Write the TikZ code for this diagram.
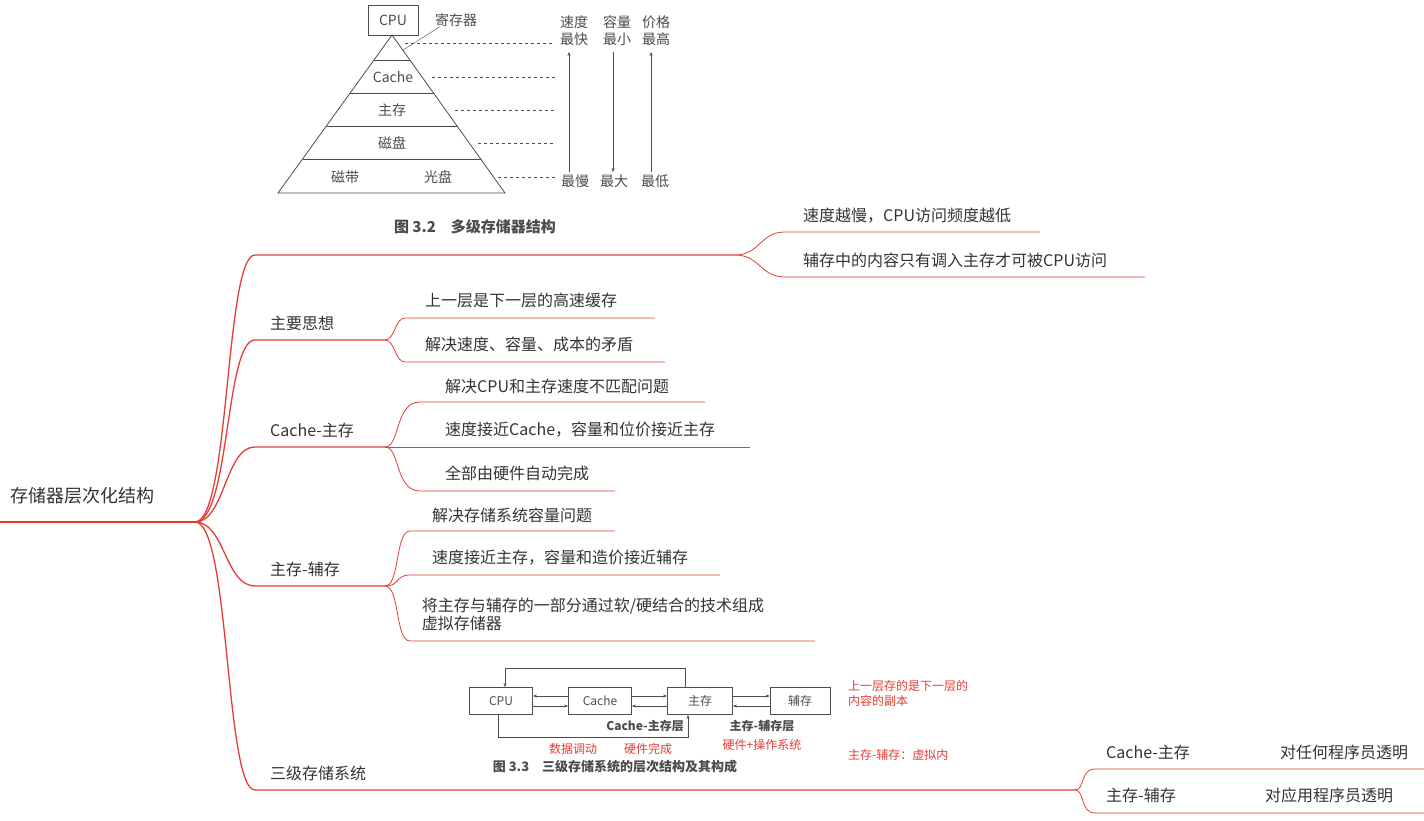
\documentclass[tikz,border=0pt]{standalone}
\usepackage{fontspec}
\setmainfont{Noto Sans CJK SC}
\usetikzlibrary{arrows.meta,calc}
\definecolor{mapRed}{rgb}{0.9,0.24,0.2}
\definecolor{txtGray}{rgb}{0.2,0.2,0.2}
\definecolor{figGray}{rgb}{0.3,0.3,0.3}
\tikzset{
  topic/.style={anchor=west,inner sep=0pt,text=txtGray,font=\fontsize{16}{18}\selectfont},
  note/.style={anchor=west,inner sep=0pt,text=mapRed,font=\fontsize{12}{15}\selectfont,align=left},
  fig/.style={inner sep=0pt,text=figGray,font=\fontsize{14}{17}\selectfont},
  figbox/.style={draw=figGray,thick,minimum height=27pt,font=\fontsize{12}{14}\selectfont,text=figGray},
  link/.style={mapRed,line width=1.3pt},
  leaf/.style={mapRed,line width=0.8pt},
  hint/.style={figGray,thin,dashed},
  flow/.style={figGray,thin,-{Stealth[length=4pt]}}
}
\begin{document}
\begin{tikzpicture}[x=1pt,y=-1pt]
    \useasboundingbox (0,0) rectangle (1424,821);

    % figure 3.2: memory pyramid
    \node[figbox,minimum width=50pt,minimum height=30pt,font=\fontsize{14}{16}\selectfont] (cpu) at (393,20) {CPU};
    \coordinate (top) at (392,35);
    \draw[figGray,thick] (top) -- (278,193) -- (505,193) -- cycle;
    \foreach \y in {60,93,126,159} {
      \pgfmathsetmacro{\w}{113.5*(\y-35)/158}
      \draw[figGray,thick] (392-\w,\y) -- (392+\w,\y);
    }
    \node[fig] (cache) at (393,77) {Cache};
    \node[fig] (main) at (392,110) {主存};
    \node[fig] (disk) at (392,143) {磁盘};
    \node[fig] (tape) at (345,177) {磁带};
    \node[fig] (cd) at (438,177) {光盘};
    \node[fig,anchor=west] (reg) at (435,20) {寄存器};
    \draw[figGray] (reg.south west) ++(5,0) -- (403,50);
    \draw[hint] (405,43) -- (555,43);
    \draw[hint] (432,77) -- (555,77);
    \draw[hint] (455,110) -- (555,110);
    \draw[hint] (478,143) -- (555,143);
    \draw[hint] (498,177) -- (555,177);
    \node[fig,align=center] (speed) at (574,31) {速度\\最快};
    \node[fig,align=center] (size) at (617,31) {容量\\最小};
    \node[fig,align=center] (price) at (656,31) {价格\\最高};
    \node[fig] (slow) at (575,181) {最慢};
    \node[fig] (big) at (614,181) {最大};
    \node[fig] (low) at (655,181) {最低};
    \draw[flow] (569,172) -- (569,52);
    \draw[flow] (613,52) -- (613,172);
    \draw[flow] (651,172) -- (651,52);
    \node[fig,font=\bfseries\fontsize{15}{17}\selectfont] (cap1) at (475,227) {图 3.2\quad 多级存储器结构};

    % root
    \node[topic,font=\fontsize{18}{20}\selectfont] (root) at (10,496) {存储器层次化结构};
    \coordinate (r) at (195,522);
    \draw[link] (0,522) -- (r);

    % branch 1 (the figure)
    \coordinate (b1) at (255,255);
    \draw[link] (r) .. controls (230,522) and (225,255) .. (b1) -- (735,255);
    \node[topic] (s1) at (803,216) {速度越慢，CPU访问频度越低};
    \node[topic] (s2) at (803,260) {辅存中的内容只有调入主存才可被CPU访问};
    \draw[leaf] (735,255) .. controls (760,255) and (760,232) .. (785,232) -- (1040,232);
    \draw[leaf] (735,255) .. controls (760,255) and (760,277) .. (785,277) -- (1145,277);

    % branch 2
    \node[topic] (idea) at (270,323) {主要思想};
    \draw[link] (r) .. controls (230,522) and (225,340) .. (255,340) -- (385,340);
    \node[topic] (i1) at (425,300) {上一层是下一层的高速缓存};
    \node[topic] (i2) at (425,344) {解决速度、容量、成本的矛盾};
    \draw[leaf] (385,340) .. controls (395,340) and (395,318) .. (405,318) -- (655,318);
    \draw[leaf] (385,340) .. controls (395,340) and (395,362) .. (405,362) -- (665,362);

    % branch 3
    \node[topic] (cm) at (270,430) {Cache-主存};
    \draw[link] (r) .. controls (225,522) and (225,447) .. (255,447) -- (385,447);
    \node[topic] (c1) at (445,386) {解决CPU和主存速度不匹配问题};
    \node[topic] (c2) at (445,430) {速度接近Cache，容量和位价接近主存};
    \node[topic] (c3) at (445,473) {全部由硬件自动完成};
    \draw[leaf] (385,447) .. controls (400,447) and (395,402) .. (420,402) -- (705,402);
    \draw[leaf] (385,447) -- (750,447);
    \draw[leaf] (385,447) .. controls (400,447) and (395,491) .. (420,491) -- (615,491);

    % branch 4
    \node[topic] (ms) at (270,569) {主存-辅存};
    \draw[link] (r) .. controls (225,522) and (225,586) .. (255,586) -- (385,586);
    \node[topic] (m1) at (432,515) {解决存储系统容量问题};
    \node[topic] (m2) at (432,558) {速度接近主存，容量和造价接近辅存};
    \node[topic,align=left] (m3) at (418,614) {\ 将主存与辅存的一部分通过软/硬结合的技术组成\\\ 虚拟存储器};
    \draw[leaf] (385,586) .. controls (400,586) and (395,531) .. (410,531) -- (615,531);
    \draw[leaf] (385,586) .. controls (400,586) and (395,575) .. (410,575) -- (720,575);
    \draw[leaf] (385,586) .. controls (400,586) and (395,641) .. (410,641) -- (815,641);

    % branch 5
    \node[topic] (three) at (270,773) {三级存储系统};
    \draw[link] (r) .. controls (230,522) and (225,790) .. (255,790) -- (1075,790);
    \node[topic] (t1) at (1106,752) {Cache-主存};
    \node[topic] (t2) at (1106,795) {主存-辅存};
    \node[topic] (t1r) at (1280,752) {对任何程序员透明};
    \node[topic] (t2r) at (1265,795) {对应用程序员透明};
    \draw[leaf] (1075,790) .. controls (1085,790) and (1080,769) .. (1095,769) -- (1424,769);
    \draw[leaf] (1075,790) .. controls (1085,790) and (1080,813) .. (1095,813) -- (1424,813);

    % figure 3.3: three-level system
    \node[figbox,minimum width=63pt] (fcpu) at (501,701) {CPU};
    \node[figbox,minimum width=63pt] (fcache) at (600,701) {Cache};
    \node[figbox,minimum width=65pt] (fmain) at (700,701) {主存};
    \node[figbox,minimum width=60pt] (faux) at (800,701) {辅存};
    \draw[flow] ([yshift=-5]fcpu.east) -- ([yshift=-5]fcache.west);
    \draw[flow] ([yshift=5]fcache.west) -- ([yshift=5]fcpu.east);
    \draw[flow] ([yshift=-5]fmain.west) -- ([yshift=-5]fcache.east);
    \draw[flow] ([yshift=5]fcache.east) -- ([yshift=5]fmain.west);
    \draw[flow] ([yshift=-5]faux.west) -- ([yshift=-5]fmain.east);
    \draw[flow] ([yshift=5]fmain.east) -- ([yshift=5]faux.west);
    \draw[flow] (fmain.north -| 685,0) -- (685,668) -- (505,668) -- (fcpu.north -| 505,0);
    \draw[flow] (fcpu.south -| 498,0) -- (498,737) -- (688,737) -- (fmain.south -| 688,0);
    \node[fig,font=\bfseries\fontsize{12}{14}\selectfont] (l1) at (645,726) {Cache-主存层};
    \node[fig,font=\bfseries\fontsize{12}{14}\selectfont] (l2) at (762,726) {主存-辅存层};
    \node[fig,font=\bfseries\fontsize{13}{15}\selectfont] (cap2) at (615,767) {图 3.3\quad 三级存储系统的层次结构及其构成};
    \node[note] (n1) at (848,693) {上一层存的是下一层的\\内容的副本};
    \node[note] (n2) at (848,755) {主存-辅存：虚拟内};
    \node[note,anchor=center] (n3) at (573,749) {数据调动};
    \node[note,anchor=center] (n4) at (648,749) {硬件完成};
    \node[note,anchor=center] (n5) at (762,745) {硬件+操作系统};
\end{tikzpicture}
\end{document}
